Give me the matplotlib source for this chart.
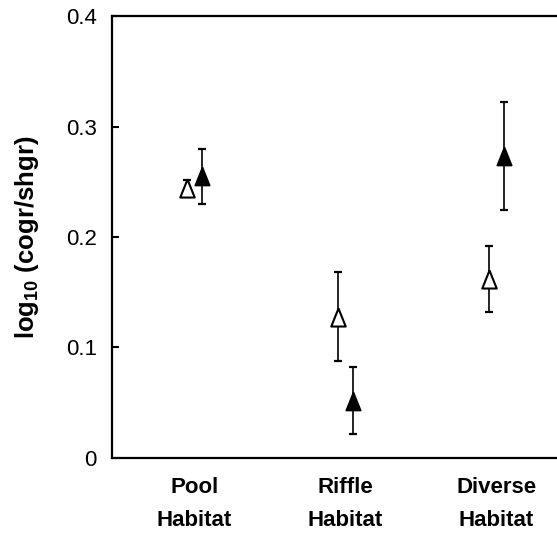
import matplotlib.pyplot as plt

plt.rcParams['font.family'] = ['Liberation Sans', 'DejaVu Sans']
plt.rcParams['mathtext.fontset'] = 'custom'
plt.rcParams['mathtext.rm'] = 'Liberation Sans'
plt.rcParams['mathtext.bf'] = 'Liberation Sans:bold'

# Datos
habitats = ['Pool\nHabitat', 'Riffle\nHabitat', 'Diverse\nHabitat']
open_mean = [0.244, 0.128, 0.162]
open_err = [0.008, 0.040, 0.030]
filled_mean = [0.255, 0.052, 0.273]
filled_err = [0.025, 0.030, 0.049]
yticks = [0, 0.1, 0.2, 0.3, 0.4]
yticklabels = ['0', '0.1', '0.2', '0.3', '0.4']

fig = plt.figure(figsize=(5.57, 5.35), dpi=100)
ax = fig.add_axes([0.201, 0.144, 0.799, 0.826])

xpos = [1, 2, 3]
off = 0.05
tri = [(0, 1), (-0.8, -1), (0.8, -1), (0, 1)]

# Triangulos abiertos
ax.errorbar([x - off for x in xpos], open_mean, yerr=open_err, fmt='none',
            ecolor='black', elinewidth=1.2, capsize=2.6, capthick=1.6, zorder=2)
ax.plot([x - off for x in xpos], open_mean, linestyle='none', marker=tri,
        markersize=13, markerfacecolor='white', markeredgecolor='black',
        markeredgewidth=1.5, zorder=3)

# Triangulos llenos
ax.errorbar([x + off for x in xpos], filled_mean, yerr=filled_err, fmt='none',
            ecolor='black', elinewidth=1.2, capsize=2.6, capthick=1.6, zorder=2)
ax.plot([x + off for x in xpos], filled_mean, linestyle='none', marker=tri,
        markersize=13, markerfacecolor='black', markeredgecolor='black',
        markeredgewidth=1.2, zorder=3)

ax.set_xlim(0.454, 3.40)
ax.set_ylim(0, 0.4)

ax.set_yticks(yticks)
ax.set_yticklabels(yticklabels)
ax.set_xticks(xpos)
ax.set_xticklabels(habitats, fontweight='bold', fontsize=16, linespacing=1.75)

ax.tick_params(axis='y', direction='in', length=5, width=1.5, pad=11, labelsize=16)
ax.tick_params(axis='x', length=0, pad=14)

ax.set_ylabel(r'$\mathbf{log_{10}}$ (cogr/shgr)', fontweight='bold', fontsize=18.5,
              labelpad=18)

ax.spines['right'].set_visible(False)
for s in ['left', 'top', 'bottom']:
    ax.spines[s].set_linewidth(1.6)

fig.savefig('out.png', dpi=100)
